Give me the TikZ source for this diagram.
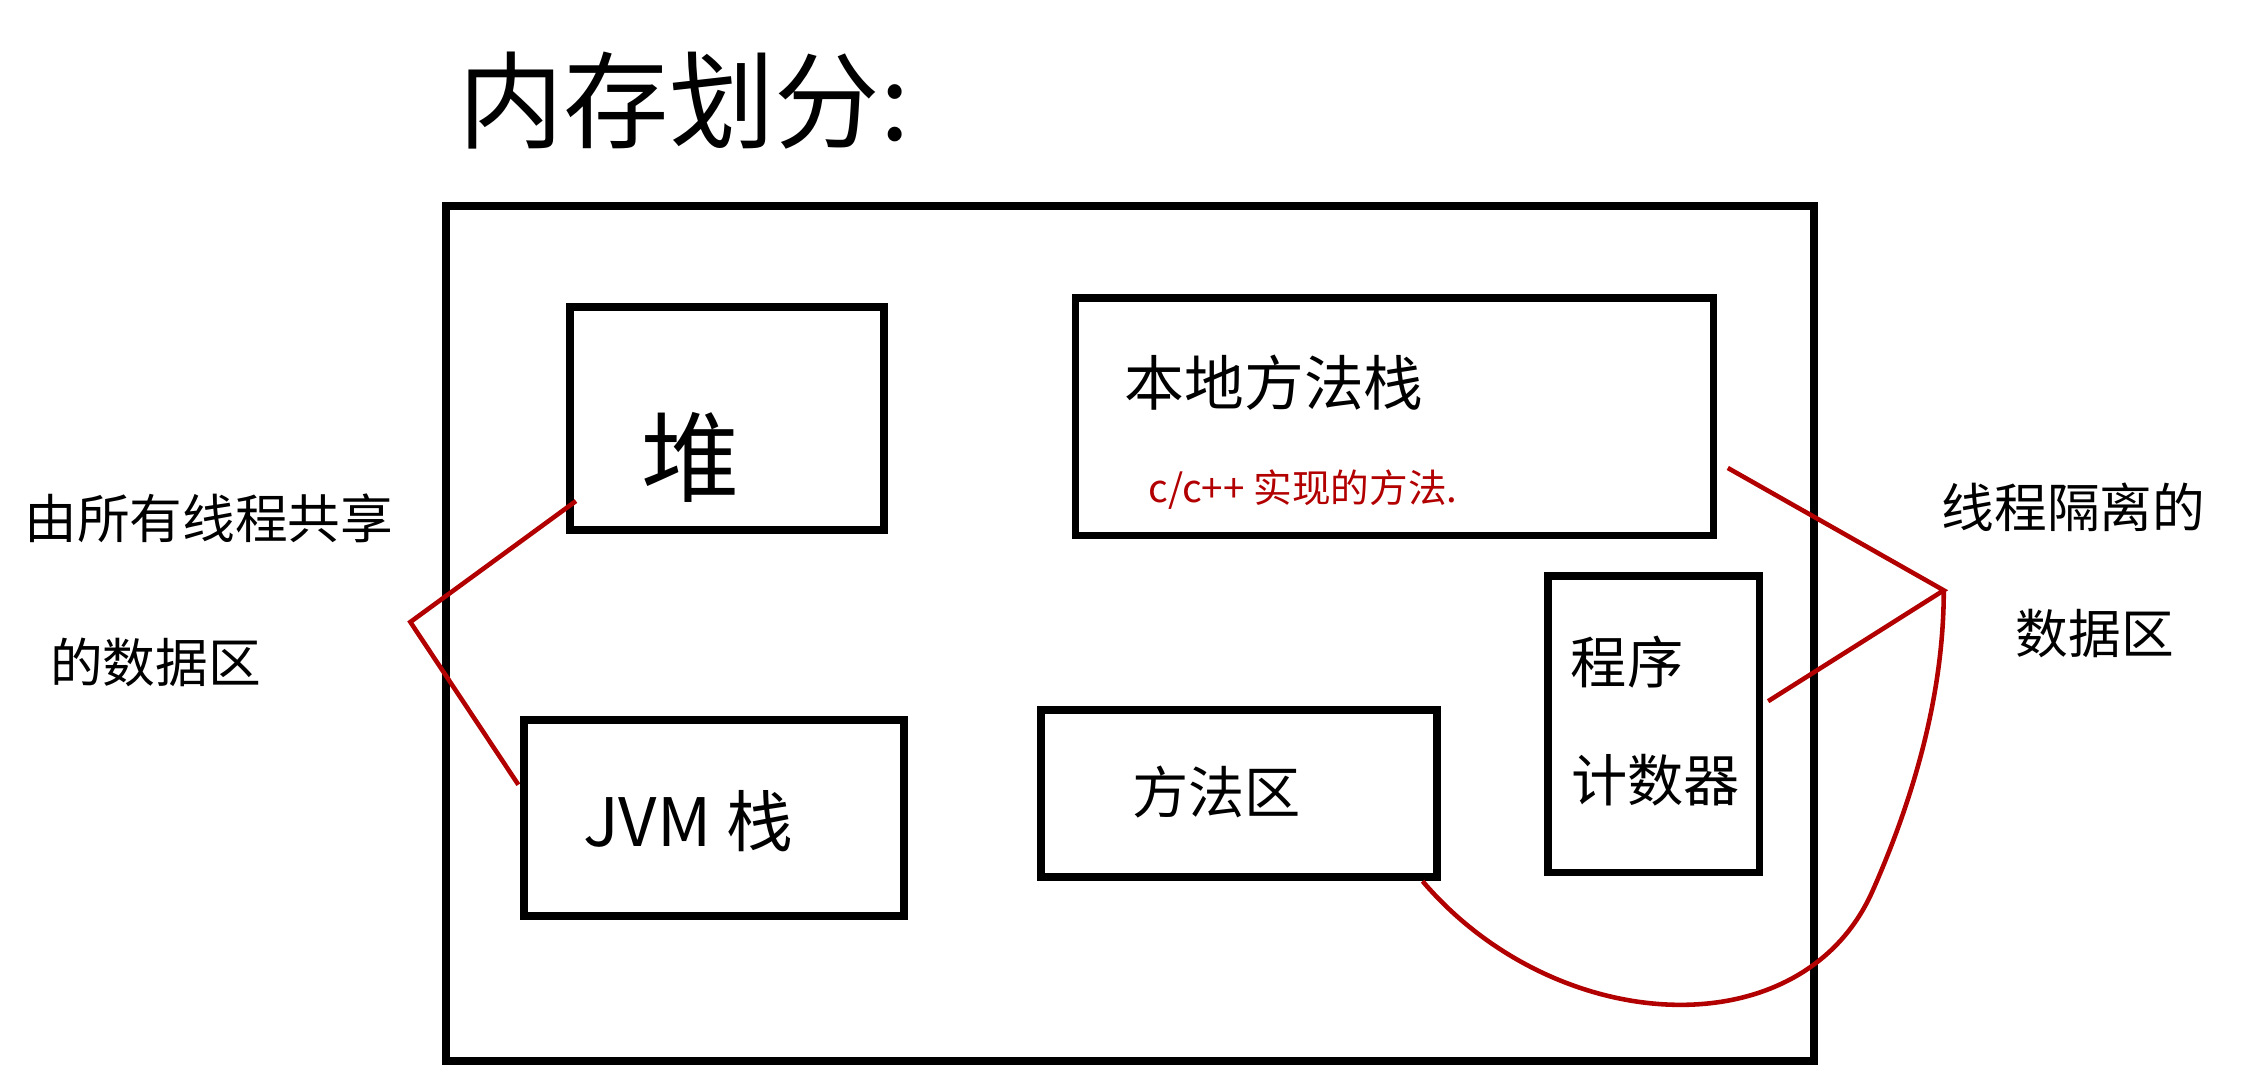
\documentclass[tikz,border=0pt]{standalone}
\usepackage{fontspec}
\setmainfont{Noto Sans CJK SC}
\begin{document}
\begin{tikzpicture}[x=0.0144cm,y=-0.0144cm]
        \useasboundingbox (0,0) rectangle (1562,750);
        \tikzset{area/.style={draw,line width=2.2pt}, note/.style={red!70!black,line width=1.3pt}}

        % Title
        \node[font=\fontsize{30}{30}\selectfont] (T) at (475,70) {内存划分:};

        % Boxes
        \draw[area] (310,143) rectangle (1260,737);
        \draw[area] (396,213) rectangle (614,368);
        \draw[area] (747,207) rectangle (1190,372);
        \draw[area] (1075,400) rectangle (1222,606);
        \draw[area] (364,500) rectangle (628,636);
        \draw[area] (723,493) rectangle (998,609);

        % Texts
        \node[font=\fontsize{28}{28}\selectfont] (Heap) at (480,318) {堆};
        \node[font=\fontsize{17}{17}\selectfont] (Native) at (885,266) {本地方法栈};
        \node[font=\fontsize{11}{11}\selectfont,text=red!70!black] (NativeNote) at (905,340) {c/c++ 实现的方法.};
        \node[font=\fontsize{16}{16}\selectfont] (PC1) at (1130,460) {程序};
        \node[font=\fontsize{16}{16}\selectfont] (PC2) at (1150,542) {计数器};
        \node[font=\fontsize{19}{19}\selectfont] (Stack) at (478,570) {JVM 栈};
        \node[font=\fontsize{16}{16}\selectfont] (Method) at (845,550) {方法区};
        \node[font=\fontsize{15}{15}\selectfont] (Shared1) at (145,360) {由所有线程共享};
        \node[font=\fontsize{15}{15}\selectfont] (Shared2) at (108,460) {的数据区};
        \node[font=\fontsize{15}{15}\selectfont] (Iso1) at (1440,352) {线程隔离的};
        \node[font=\fontsize{15}{15}\selectfont] (Iso2) at (1455,440) {数据区};

        % Comment lines
        \coordinate (L1) at (400,348);
        \coordinate (L0) at (285,432);
        \coordinate (L2) at (360,545);
        \coordinate (R1) at (1200,325);
        \coordinate (R0) at (1350,410);
        \coordinate (R2) at (1228,487);
        \coordinate (R3) at (988,612);
        \draw[note] (L1) -- (L0) -- (L2);
        \draw[note] (R1) -- (R0) -- (R2);
        \draw[note] (R3) .. controls (1080,720) and (1250,730) .. (1300,620) .. controls (1340,530) and (1350,460) .. (R0);
\end{tikzpicture}
\end{document}
